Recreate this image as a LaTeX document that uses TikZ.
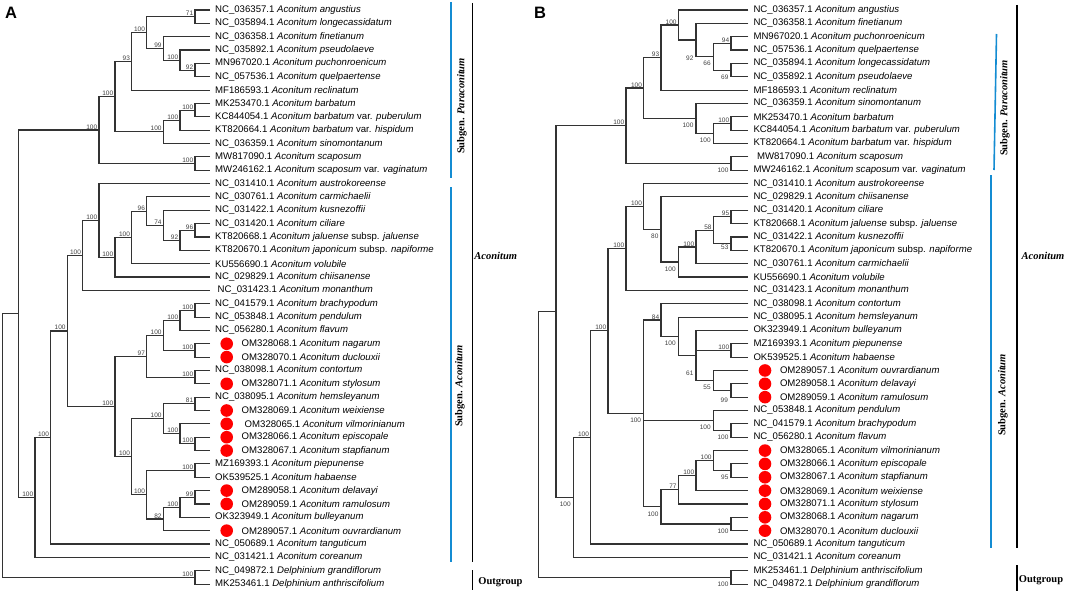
\documentclass[tikz,border=0pt]{standalone}
\usepackage{fontspec}
\setmainfont{Liberation Sans}
\newfontfamily\serifbf{Liberation Serif}
\usetikzlibrary{calc}
\definecolor{blueann}{RGB}{20,140,210}
\tikzset{
  br/.style={line width=1.1pt, draw=black!80},
  tx/.style={anchor=west, inner sep=0pt, font=\fontsize{9.6}{11}\selectfont},
  bs/.style={inner sep=0.4pt, font=\fontsize{6.5}{7}\selectfont, text=black!75},
  reddot/.style={circle, fill=red, minimum size=12.6pt, inner sep=0pt},
  blueline/.style={line width=1.6pt, draw=blueann},
  blackline/.style={line width=1.4pt, draw=black},
  ann/.style={font=\fontsize{10.5}{12}\selectfont\serifbf\bfseries, inner sep=0pt},
  panel/.style={font=\fontsize{16.5}{18}\selectfont\bfseries, inner sep=0pt},
}
% leaf: [extra shift]{name}{tip x}{row}{text}
\newcommand\Leaf[5][0]{%
  \coordinate (#2) at (#3,{10+13.35*(#4-1)});
  \node[tx] (#2t) at ([xshift={5+#1}]#2) {#5};}
\newcommand\LeafD[5][0]{%
  \coordinate (#2) at (#3,{10+13.35*(#4-1)});
  \node[reddot] (#2d) at ([xshift=16.7]#2) {};
  \node[tx] (#2t) at ([xshift={31.5+#1}]#2) {#5};}
% internal node: name, x, child1, child2
\newcommand\Tn[4]{%
  \path (#3) -- (#4) coordinate[midway] (tmpm);
  \coordinate (tmpx) at (#2,0);
  \coordinate (#1) at (tmpm -| tmpx);
  \draw[br] (#3) -| (#1) |- (#4);}
% polytomy: name, x, c1, c2 (middle), c3
\newcommand\Tnn[5]{%
  \path (#3) -- (#5) coordinate[midway] (tmpm);
  \coordinate (tmpx) at (#2,0);
  \coordinate (#1) at (tmpm -| tmpx);
  \draw[br] (#3) -| (#1) |- (#5);
  \draw[br] (#1 |- #4) -- (#4);}
% support labels: above-left / below-left
\newcommand\BA[2]{\node[bs, anchor=south east] (#1b) at ([xshift=-1.2, yshift=0.3]#1) {#2};}
\newcommand\BB[3][0]{\node[bs, anchor=north east] (#2b) at ([xshift=-2, yshift={-4+#1}]#2) {#3};}
\begin{document}
\begin{tikzpicture}[x=1pt, y=-1pt]
\useasboundingbox (0,0) rectangle (1065,591);
\node[panel] (labA) at (11,12.5) {A};
\node[panel] (labB) at (540,12.5) {B};
% ================= Panel A leaves =================
\Leaf{a1}{210}{1}{NC\_036357.1 \textit{Aconitum angustius}}
\Leaf{a2}{210}{2}{NC\_035894.1 \textit{Aconitum longecassidatum}}
\Leaf{a3}{210}{3}{NC\_036358.1 \textit{Aconitum finetianum}}
\Leaf{a4}{210}{4}{NC\_035892.1 \textit{Aconitum pseudolaeve}}
\Leaf{a5}{210}{5}{MN967020.1 \textit{Aconitum puchonroenicum}}
\Leaf{a6}{210}{6}{NC\_057536.1 \textit{Aconitum quelpaertense}}
\Leaf{a7}{210}{7}{MF186593.1 \textit{Aconitum reclinatum}}
\Leaf{a8}{210}{8}{MK253470.1 \textit{Aconitum barbatum}}
\Leaf{a9}{210}{9}{KC844054.1 \textit{Aconitum barbatum} var. \textit{puberulum}}
\Leaf{a10}{210}{10}{KT820664.1 \textit{Aconitum barbatum} var. \textit{hispidum}}
\Leaf{a11}{210}{11}{NC\_036359.1 \textit{Aconitum sinomontanum}}
\Leaf{a12}{210}{12}{MW817090.1 \textit{Aconitum scaposum}}
\Leaf{a13}{210}{13}{MW246162.1 \textit{Aconitum scaposum} var. \textit{vaginatum}}
\Leaf{a14}{210}{14}{NC\_031410.1 \textit{Aconitum austrokoreense}}
\Leaf{a15}{210}{15}{NC\_030761.1 \textit{Aconitum carmichaelii}}
\Leaf{a16}{210}{16}{NC\_031422.1 \textit{Aconitum kusnezoffii}}
\Leaf{a17}{210}{17}{NC\_031420.1 \textit{Aconitum ciliare}}
\Leaf{a18}{210}{18}{KT820668.1 \textit{Aconitum jaluense} subsp. \textit{jaluense}}
\Leaf{a19}{210}{19}{KT820670.1 \textit{Aconitum japonicum} subsp. \textit{napiforme}}
\Leaf{a20}{210}{20}{KU556690.1 \textit{Aconitum volubile}}
\Leaf{a21}{210}{21}{NC\_029829.1 \textit{Aconitum chiisanense}}
\Leaf[2.5]{a22}{210}{22}{NC\_031423.1 \textit{Aconitum monanthum}}
\Leaf{a23}{210}{23}{NC\_041579.1 \textit{Aconitum brachypodum}}
\Leaf{a24}{210}{24}{NC\_053848.1 \textit{Aconitum pendulum}}
\Leaf{a25}{210}{25}{NC\_056280.1 \textit{Aconitum flavum}}
\LeafD{a26}{210}{26}{OM328068.1 \textit{Aconitum nagarum}}
\LeafD{a27}{210}{27}{OM328070.1 \textit{Aconitum duclouxii}}
\Leaf{a28}{210}{28}{NC\_038098.1 \textit{Aconitum contortum}}
\LeafD{a29}{210}{29}{OM328071.1 \textit{Aconitum stylosum}}
\Leaf{a30}{210}{30}{NC\_038095.1 \textit{Aconitum hemsleyanum}}
\LeafD{a31}{210}{31}{OM328069.1 \textit{Aconitum weixiense}}
\LeafD[3]{a32}{210}{32}{OM328065.1 \textit{Aconitum vilmorinianum}}
\LeafD{a33}{210}{33}{OM328066.1 \textit{Aconitum episcopale}}
\LeafD{a34}{210}{34}{OM328067.1 \textit{Aconitum stapfianum}}
\Leaf{a35}{210}{35}{MZ169393.1 \textit{Aconitum piepunense}}
\Leaf{a36}{210}{36}{OK539525.1 \textit{Aconitum habaense}}
\LeafD{a37}{210}{37}{OM289058.1 \textit{Aconitum delavayi}}
\LeafD{a38}{210}{38}{OM289059.1 \textit{Aconitum ramulosum}}
\Leaf{a39}{210}{39}{OK323949.1 \textit{Aconitum bulleyanum}}
\LeafD{a40}{210}{40}{OM289057.1 \textit{Aconitum ouvrardianum}}
\Leaf{a41}{210}{41}{NC\_050689.1 \textit{Aconitum tanguticum}}
\Leaf{a42}{210}{42}{NC\_031421.1 \textit{Aconitum coreanum}}
\Leaf{a43}{210}{43}{NC\_049872.1 \textit{Delphinium grandiflorum}}
\Leaf{a44}{210}{44}{MK253461.1 \textit{Delphinium anthriscifolium}}
% ================= Panel A tree =================
\Tn{A1}{195}{a1}{a2} \BA{A1}{71}
\Tn{A2}{195}{a5}{a6} \BA{A2}{92}
\Tn{A3}{180}{a4}{A2} \BA{A3}{100}
\Tn{A4}{163.3}{a3}{A3} \BA{A4}{99}
\Tn{A5}{146.7}{A1}{A4} \BA{A5}{100}
\Tn{A6}{131.7}{A5}{a7} \BA{A6}{93}
\Tn{A7}{195}{a8}{a9} \BA{A7}{100}
\Tn{A8}{180}{A7}{a10} \BA{A8}{100}
\Tn{A9}{163.3}{A8}{a11} \BA{A9}{100}
\Tn{A10}{115}{A6}{A9} \BA{A10}{100}
\Tn{A11}{195}{a12}{a13} \BA{A11}{100}
\Tn{A12}{99}{A10}{A11} \BA{A12}{100}
\Tn{A13}{195}{a17}{a18} \BA{A13}{96}
\Tn{A14}{180}{A13}{a19} \BA{A14}{92}
\Tn{A15}{163.3}{a16}{A14} \BA{A15}{74}
\Tn{A16}{146.7}{a15}{A15} \BA{A16}{96}
\Tn{A17}{131.7}{A16}{a20} \BA{A17}{100}
\Tn{A18}{115}{A17}{a21} \BA{A18}{100}
\Tn{A19}{99}{a14}{A18} \BA{A19}{100}
\Tn{A20}{82.7}{A19}{a22} \BA{A20}{100}
\Tn{A21}{195}{a23}{a24} \BA{A21}{100}
\Tn{A22}{180}{A21}{a25} \BA{A22}{100}
\Tn{A23}{195}{a26}{a27} \BA{A23}{100}
\Tn{A24}{163.3}{A22}{A23} \BA{A24}{100}
\Tn{A25}{195}{a28}{a29} \BA{A25}{100}
\Tn{A26}{146.7}{A24}{A25} \BA{A26}{97}
\Tn{A27}{195}{a30}{a31} \BA{A27}{81}
\Tn{A28}{195}{a33}{a34} \BA{A28}{100}
\Tn{A29}{180}{a32}{A28} \BA{A29}{100}
\Tn{A30}{163.3}{A27}{A29} \BA{A30}{100}
\Tn{A31}{195}{a35}{a36} \BA{A31}{100}
\Tn{A32}{195}{a37}{a38} \BA{A32}{99}
\Tn{A33}{180}{A32}{a39} \BA{A33}{100}
\Tn{A34}{163.3}{A33}{a40} \BA{A34}{82}
\Tn{A35}{146.7}{A31}{A34} \BA{A35}{100}
\Tn{A36}{131.7}{A30}{A35} \BA{A36}{100}
\Tn{A37}{115}{A26}{A36} \BA{A37}{100}
\Tn{A38}{67.3}{A20}{A37} \BA{A38}{100}
\Tn{A39}{50.7}{A38}{a41} \BA{A39}{100}
\Tn{A40}{35}{A39}{a42} \BA{A40}{100}
\Tn{A41}{18.3}{A12}{A40}
\Tn{A42}{195}{a43}{a44} \BA{A42}{100}
\Tn{A43}{2.7}{A41}{A42}
% ================= Panel A annotations =================
\draw[blueline] (450.7,2) -- (450.7,178);
\draw[blueline] (450.7,187) -- (450.7,562);
\draw[blackline] (472.7,3) -- (472.7,562);
\draw[blackline] (472.7,570) -- (472.7,590);
\node[ann, rotate=90] (sgPA) at (462,106) {Subgen. \textit{Paraconitum}};
\node[ann] (gA) at (495.7,255.7) {\textit{Aconitum}};
\node[ann, rotate=90] (sgAA) at (460,386) {Subgen. \textit{Aconitum}};
\node[ann] (ogA) at (500.5,582) {Outgroup};
% ================= Panel B leaves =================
\Leaf{b1}{748.3}{1}{NC\_036357.1 \textit{Aconitum angustius}}
\Leaf{b2}{748.3}{2}{NC\_036358.1 \textit{Aconitum finetianum}}
\Leaf{b3}{748.3}{3}{MN967020.1 \textit{Aconitum puchonroenicum}}
\Leaf{b4}{748.3}{4}{NC\_057536.1 \textit{Aconitum quelpaertense}}
\Leaf{b5}{748.3}{5}{NC\_035894.1 \textit{Aconitum longecassidatum}}
\Leaf{b6}{748.3}{6}{NC\_035892.1 \textit{Aconitum pseudolaeve}}
\Leaf{b7}{748.3}{7}{MF186593.1 \textit{Aconitum reclinatum}}
\Leaf{b8}{748.3}{8}{NC\_036359.1 \textit{Aconitum sinomontanum}}
\Leaf{b9}{748.3}{9}{MK253470.1 \textit{Aconitum barbatum}}
\Leaf{b10}{748.3}{10}{KC844054.1 \textit{Aconitum barbatum} var. \textit{puberulum}}
\Leaf{b11}{748.3}{11}{KT820664.1 \textit{Aconitum barbatum} var. \textit{hispidum}}
\Leaf[3.5]{b12}{748.3}{12}{MW817090.1 \textit{Aconitum scaposum}}
\Leaf{b13}{748.3}{13}{MW246162.1 \textit{Aconitum scaposum} var. \textit{vaginatum}}
\Leaf{b14}{748.3}{14}{NC\_031410.1 \textit{Aconitum austrokoreense}}
\Leaf{b15}{748.3}{15}{NC\_029829.1 \textit{Aconitum chiisanense}}
\Leaf{b16}{748.3}{16}{NC\_031420.1 \textit{Aconitum ciliare}}
\Leaf{b17}{748.3}{17}{KT820668.1 \textit{Aconitum jaluense} subsp. \textit{jaluense}}
\Leaf{b18}{748.3}{18}{NC\_031422.1 \textit{Aconitum kusnezoffii}}
\Leaf{b19}{748.3}{19}{KT820670.1 \textit{Aconitum japonicum} subsp. \textit{napiforme}}
\Leaf{b20}{748.3}{20}{NC\_030761.1 \textit{Aconitum carmichaelii}}
\Leaf{b21}{748.3}{21}{KU556690.1 \textit{Aconitum volubile}}
\Leaf{b22}{748.3}{22}{NC\_031423.1 \textit{Aconitum monanthum}}
\Leaf{b23}{748.3}{23}{NC\_038098.1 \textit{Aconitum contortum}}
\Leaf{b24}{748.3}{24}{NC\_038095.1 \textit{Aconitum hemsleyanum}}
\Leaf{b25}{748.3}{25}{OK323949.1 \textit{Aconitum bulleyanum}}
\Leaf{b26}{748.3}{26}{MZ169393.1 \textit{Aconitum piepunense}}
\Leaf{b27}{748.3}{27}{OK539525.1 \textit{Aconitum habaense}}
\LeafD{b28}{748.3}{28}{OM289057.1 \textit{Aconitum ouvrardianum}}
\LeafD{b29}{748.3}{29}{OM289058.1 \textit{Aconitum delavayi}}
\LeafD{b30}{748.3}{30}{OM289059.1 \textit{Aconitum ramulosum}}
\Leaf{b31}{748.3}{31}{NC\_053848.1 \textit{Aconitum pendulum}}
\Leaf{b32}{748.3}{32}{NC\_041579.1 \textit{Aconitum brachypodum}}
\Leaf{b33}{748.3}{33}{NC\_056280.1 \textit{Aconitum flavum}}
\LeafD{b34}{748.3}{34}{OM328065.1 \textit{Aconitum vilmorinianum}}
\LeafD{b35}{748.3}{35}{OM328066.1 \textit{Aconitum episcopale}}
\LeafD{b36}{748.3}{36}{OM328067.1 \textit{Aconitum stapfianum}}
\LeafD{b37}{748.3}{37}{OM328069.1 \textit{Aconitum weixiense}}
\LeafD{b38}{748.3}{38}{OM328071.1 \textit{Aconitum stylosum}}
\LeafD{b39}{748.3}{39}{OM328068.1 \textit{Aconitum nagarum}}
\LeafD{b40}{748.3}{40}{OM328070.1 \textit{Aconitum duclouxii}}
\Leaf{b41}{748.3}{41}{NC\_050689.1 \textit{Aconitum tanguticum}}
\Leaf{b42}{748.3}{42}{NC\_031421.1 \textit{Aconitum coreanum}}
\Leaf{b43}{748.3}{43}{MK253461.1 \textit{Delphinium anthriscifolium}}
\Leaf{b44}{748.3}{44}{NC\_049872.1 \textit{Delphinium grandiflorum}}
% ================= Panel B tree =================
\Tn{B1}{731}{b3}{b4} \BA{B1}{94}
\Tn{B2}{731}{b5}{b6} \BB{B2}{69}
\Tn{B3}{713.3}{B1}{B2} \BB{B3}{66}
\Tn{B4}{696}{b2}{B3} \BB[-11]{B4}{92}
\Tn{B5}{678.3}{b1}{B4} \BA{B5}{100}
\Tn{B6}{661}{B5}{b7} \BA{B6}{93}
\Tn{B7}{731}{b9}{b10} \BA{B7}{100}
\Tn{B8}{713.3}{B7}{b11} \BB{B8}{100}
\Tn{B9}{696}{b8}{B8} \BB{B9}{100}
\Tn{B10}{643.7}{B6}{B9} \BA{B10}{100}
\Tn{B11}{731}{b12}{b13} \BB{B11}{100}
\Tn{B12}{626}{B10}{B11} \BA{B12}{100}
\Tn{B13}{731}{b16}{b17} \BA{B13}{95}
\Tn{B14}{731}{b18}{b19} \BB[3]{B14}{53}
\Tn{B15}{713.3}{B13}{B14} \BA{B15}{58}
\Tn{B16}{696}{B15}{b20} \BA{B16}{100}
\Tn{B17}{678.3}{B16}{b21} \BB{B17}{100}
\Tn{B18}{661}{b15}{B17} \BB{B18}{80}
\Tn{B19}{643.7}{b14}{B18} \BA{B19}{100}
\Tn{B20}{626}{B19}{b22} \BA{B20}{100}
\Tn{B21}{731}{b26}{b27} \BA{B21}{100}
\Tn{B22}{731}{b29}{b30}
\Tn{B23}{713.3}{b28}{B22} \BB{B23}{55}
\Tnn{B24}{696}{b25}{B21}{B23} \BB[-11]{B24}{61}
\Tn{B25}{678.3}{b24}{B24} \BB{B25}{100}
\Tn{B26}{661}{b23}{B25} \BA{B26}{84}
\Tn{B27}{731}{b32}{b33} \BB{B27}{100}
\Tn{B28}{713.3}{b31}{B27} \BB{B28}{100}
\node[bs] (B28c) at ([xshift=-24, yshift=10]b31) {99};
\Tn{B29}{731}{b35}{b36} \BB{B29}{95}
\Tn{B30}{713.3}{b34}{B29} \BA{B30}{100}
\Tn{B31}{696}{B30}{b37} \BA{B31}{100}
\Tn{B32}{678.3}{B31}{b38} \BA{B32}{77}
\Tn{B33}{731}{b39}{b40} \BB{B33}{100}
\Tn{B34}{661}{B32}{B33} \BB{B34}{100}
\Tnn{B35}{643.7}{B26}{B28}{B34} \BB{B35}{100}
\Tn{B36}{608}{B20}{B35} \BA{B36}{100}
\Tn{B37}{590.7}{B36}{b41} \BA{B37}{100}
\Tn{B38}{573.3}{B37}{b42} \BB{B38}{100}
\Tn{B39}{556}{B12}{B38}
\Tn{B40}{731}{b43}{b44} \BB{B40}{100}
\Tn{B41}{538.3}{B39}{B40}
% ================= Panel B annotations =================
\draw[blueline] (996.5,34) -- (994,170);
\draw[blueline] (991,175) -- (991,548);
\draw[blackline] (1017,5) -- (1017,548);
\draw[blackline] (1017,565) -- (1017,591);
\node[ann, rotate=90] (sgPB) at (1005,108) {Subgen. \textit{Paraconitum}};
\node[ann] (gB) at (1043,256) {\textit{Aconitum}};
\node[ann, rotate=90] (sgAB) at (1003,395) {Subgen. \textit{Aconitum}};
\node[ann] (ogB) at (1041,580) {Outgroup};
\end{tikzpicture}
\end{document}
